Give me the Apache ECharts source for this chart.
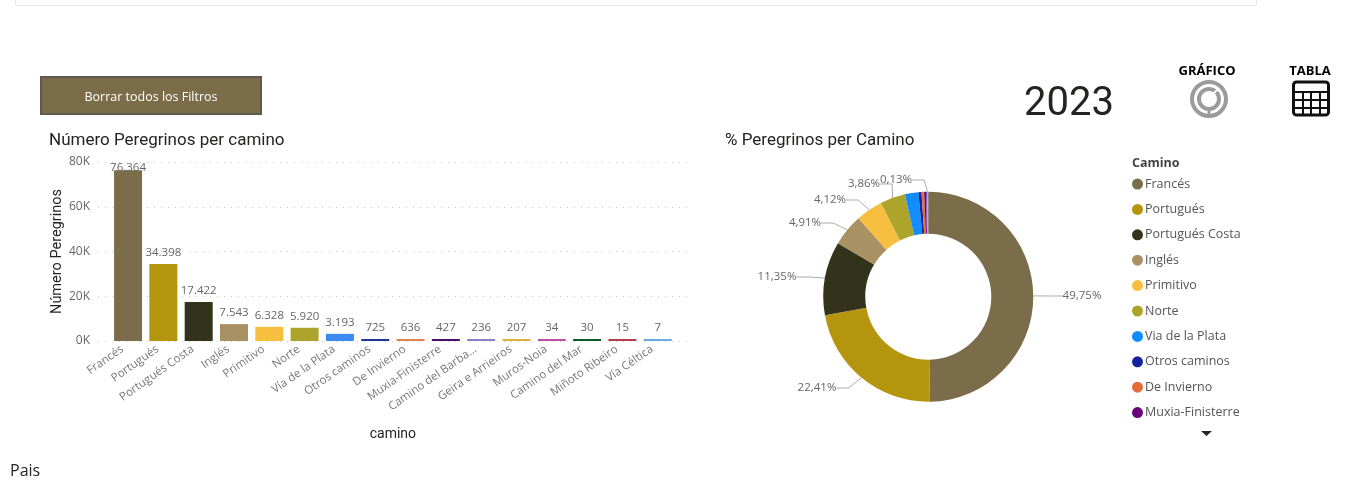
<!DOCTYPE html>
<html>
<head>
<meta charset="utf-8">
<title>Peregrinos 2023</title>
<script src="https://cdn.jsdelivr.net/npm/echarts@6/dist/echarts.min.js"></script>
<style>
html, body { margin: 0; padding: 0; background: #fff; }
#chart { width: 1351px; height: 487px; }
</style>
</head>
<body>
<div id="chart"></div>
<script>
var categories = ['Francés', 'Portugués', 'Portugués Costa', 'Inglés', 'Primitivo', 'Norte', 'Vía de la Plata', 'Otros caminos',
    'De Invierno', 'Muxia-Finisterre', 'Camino del Barba...', 'Geira e Arrieiros', 'Muros-Noia', 'Camino del Mar', 'Miñoto Ribeiro', 'Vía Céltica'];
var pieNames = ['Francés', 'Portugués', 'Portugués Costa', 'Inglés', 'Primitivo', 'Norte', 'Via de la Plata', 'Otros caminos',
    'De Invierno', 'Muxia-Finisterre', 'Camino del Barbanza', 'Geira e Arrieiros', 'Muros-Noia', 'Camino del Mar', 'Miñoto Ribeiro', 'Via Céltica'];
var peregrinos = [76364, 34398, 17422, 7543, 6328, 5920, 3193, 725, 636, 427, 236, 207, 34, 30, 15, 7];
var barColors = ['#7b6d4a', '#b5950d', '#33321b', '#a89163', '#f7bf3f', '#ada52b', '#3d8af0', '#1f3a93',
    '#e0814f', '#4b0f6b', '#8a7fc7', '#d9b33a', '#c04fa0', '#0e5a2a', '#b23a4a', '#6ca9e0'];
var pieColors = ['#7b6d4a', '#b5950d', '#33321b', '#a89163', '#f7bf3f', '#ada52b', '#118dff', '#12239e',
    '#e66c37', '#6b007b', '#744ec2', '#d9b300', '#e044a7', '#197278', '#d64550', '#6ca9e0'];
var yTicks = [0, 20000, 40000, 60000, 80000];
var legendCount = 10;
var total = 0;
for (var i = 0; i < peregrinos.length; i++) total += peregrinos[i];

// solo estas porciones llevan etiqueta, centro del texto en px
var pieLabelPos = {
    0: [1082, 296],
    1: [817, 388],
    2: [777, 277],
    3: [805, 223],
    4: [830, 200],
    5: [864, 184],
    11: [896, 180]
};

function miles(v) {
    return String(v).replace(/\B(?=(\d{3})+$)/g, '.');
}
function pct(v) {
    return (v / total * 100).toFixed(2).replace('.', ',');
}

var barData = [];
var pieData = [];
for (var j = 0; j < peregrinos.length; j++) {
    barData.push({
        value: peregrinos[j],
        itemStyle: { color: barColors[j] },
        label: j == 0 ? { offset: [0, 9] } : {}
    });
    var shown = pieLabelPos[j] != null;
    pieData.push({
        name: pieNames[j],
        value: peregrinos[j],
        itemStyle: { color: pieColors[j] },
        label: { show: shown },
        labelLine: { show: shown }
    });
}

var segoe = '"Open Sans", "Noto Sans", sans-serif';
var din = 'Roboto, "Noto Sans", sans-serif';

function txt(x, y, s, size, color, align, font, weight) {
    return {
        type: 'text', x: x, y: y, silent: true,
        style: { text: s, fontSize: size, fill: color, align: align, verticalAlign: 'middle', fontFamily: font, fontWeight: weight || 'normal' }
    };
}
function line(x1, y1, x2, y2) {
    return { type: 'line', silent: true, shape: { x1: x1, y1: y1, x2: x2, y2: y2 }, style: { stroke: '#111', lineWidth: 2 } };
}

var graphics = [
    { type: 'rect', silent: true, shape: { x: 15.5, y: -10, width: 1241, height: 15.5 }, style: { fill: '#fff', stroke: '#e8e8e8', lineWidth: 1 } },
    { type: 'rect', silent: true, shape: { x: 41, y: 77, width: 220, height: 37 }, style: { fill: '#7b6d4a', stroke: '#5e5a50', lineWidth: 2 } },
    txt(151, 97.5, 'Borrar todos los Filtros', 12.5, '#fff', 'center', segoe),
    txt(49, 141, 'Número Peregrinos per camino', 17, '#252423', 'left', din),
    txt(725, 141, '% Peregrinos per Camino', 17, '#252423', 'left', din),
    txt(1024, 105, '2023', 40, '#252423', 'left', din),
    txt(1207, 71, 'GRÁFICO', 13, '#000', 'center', segoe, 'bold'),
    txt(1310, 71, 'TABLA', 13, '#000', 'center', segoe, 'bold'),
    txt(1132, 163, 'Camino', 12.5, '#444', 'left', segoe, 'bold'),
    txt(10, 471, 'Pais', 16, '#252423', 'left', segoe),
    { type: 'polygon', silent: true, shape: { points: [[1201, 431], [1212, 431], [1206.5, 436]] }, style: { fill: '#252423' } },
    // icono grafico
    { type: 'circle', silent: true, shape: { cx: 1209, cy: 99, r: 17 }, style: { fill: 'none', stroke: '#9b9b9b', lineWidth: 4 } },
    { type: 'circle', silent: true, shape: { cx: 1209, cy: 99, r: 10 }, style: { fill: 'none', stroke: '#9b9b9b', lineWidth: 4 } },
    { type: 'line', silent: true, shape: { x1: 1209, y1: 108, x2: 1209, y2: 115 }, style: { stroke: '#9b9b9b', lineWidth: 3 } },
    { type: 'line', silent: true, shape: { x1: 1214, y1: 93, x2: 1219, y2: 88 }, style: { stroke: '#fff', lineWidth: 2 } },
    // icono tabla
    { type: 'rect', silent: true, shape: { x: 1293.5, y: 82, width: 35, height: 33, r: 3 }, style: { fill: 'none', stroke: '#111', lineWidth: 3 } },
    line(1294, 92, 1328, 92),
    line(1294, 100, 1328, 100),
    line(1294, 108, 1328, 108),
    line(1303, 92, 1303, 115),
    line(1311, 92, 1311, 115),
    line(1320, 92, 1320, 115)
];

var option = {
    animation: false,
    textStyle: { fontFamily: segoe },
    grid: [
        // grid 0 solo para las lineas y el eje Y, es mas ancho que las barras
        { left: 98, top: 162, width: 589, height: 179 },
        { left: 110.4, top: 162, width: 565, height: 179 }
    ],
    xAxis: [
        { gridIndex: 0, type: 'category', data: [], show: false },
        {
            gridIndex: 1,
            type: 'category',
            data: categories,
            name: 'camino',
            nameLocation: 'middle',
            nameGap: 86,
            nameTextStyle: { color: '#252423', fontSize: 14, fontFamily: din },
            axisLine: { show: false },
            axisTick: { show: false },
            axisLabel: { rotate: 35, interval: 0, margin: 3, padding: [0, 7, 0, 0], color: '#777', fontSize: 11.5 }
        }
    ],
    yAxis: [
        {
            gridIndex: 0,
            type: 'value',
            min: 0,
            max: 80000,
            interval: 20000,
            name: 'Número Peregrinos',
            nameLocation: 'middle',
            nameGap: 32,
            nameTextStyle: { color: '#252423', fontSize: 14.5, fontFamily: din },
            axisLine: { show: false },
            axisTick: { show: false },
            axisLabel: {
                margin: 8, color: '#666', fontSize: 12,
                formatter: function (v) { return yTicks.indexOf(v) >= 0 ? v / 1000 + 'K' : ''; }
            },
            splitLine: { lineStyle: { color: '#c8c8c8', type: [1, 6] } }
        },
        { gridIndex: 1, type: 'value', min: 0, max: 80000, show: false }
    ],
    legend: {
        orient: 'vertical',
        left: 1132,
        top: 177,
        padding: 0,
        icon: 'circle',
        itemWidth: 11,
        itemHeight: 11,
        itemGap: 11.4,
        selectedMode: false,
        data: pieNames.slice(0, legendCount),
        formatter: function (n) { return n; },
        textStyle: { color: '#555', fontSize: 12.5, lineHeight: 14, padding: [0, 0, 0, -3] }
    },
    graphic: graphics,
    series: [
        {
            type: 'bar',
            xAxisIndex: 1,
            yAxisIndex: 1,
            barWidth: 28,
            barMinHeight: 2,
            data: barData,
            label: {
                show: true,
                position: 'top',
                distance: 5,
                color: '#666',
                fontSize: 11.5,
                formatter: function (p) { return miles(p.value); }
            }
        },
        {
            type: 'pie',
            center: [928.3, 296.7],
            radius: [63, 105],
            startAngle: 90,
            clockwise: true,
            avoidLabelOverlap: false,
            data: pieData,
            label: {
                color: '#666',
                fontSize: 11.5,
                padding: [2, 4],
                formatter: function (p) { return pct(p.value) + '%'; }
            },
            labelLine: { length: 12, length2: 12, lineStyle: { color: '#aaa', width: 1 } },
            labelLayout: function (p) {
                var pos = pieLabelPos[p.dataIndex];
                if (!pos) return {};
                return { x: pos[0], y: pos[1], align: 'center', verticalAlign: 'middle' };
            }
        }
    ]
};

var chart = echarts.init(document.getElementById('chart'));
chart.setOption(option);
</script>
</body>
</html>
